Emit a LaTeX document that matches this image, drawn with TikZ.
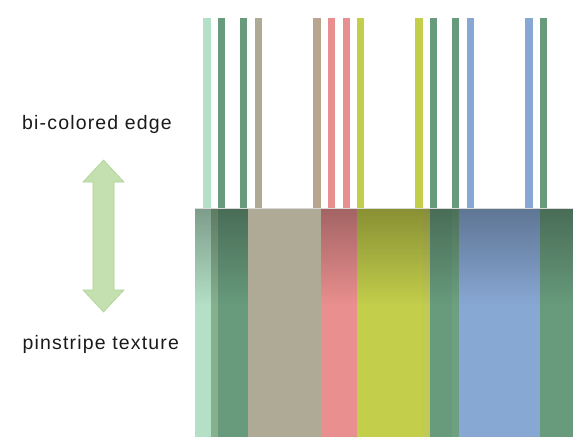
\documentclass[tikz,border=0pt]{standalone}
\usepackage{fontspec}
\setmainfont{Liberation Sans}
\usetikzlibrary{fadings}
\definecolor{cmint}{HTML}{B3E0C6}
\definecolor{cmix}{HTML}{87B08F}
\definecolor{cgreen}{HTML}{689B7C}
\definecolor{cgreenl}{HTML}{6DA081}
\definecolor{ctan}{HTML}{AEAA96}
\definecolor{cbrown}{HTML}{B9A48F}
\definecolor{cpink}{HTML}{EA8F8F}
\definecolor{cyel}{HTML}{C3CE4B}
\definecolor{cyeld}{HTML}{C1C957}
\definecolor{cblue}{HTML}{88A8D4}
\definecolor{arrfill}{HTML}{C5E0B0}
\definecolor{arrdraw}{HTML}{ABD192}
\definecolor{txt}{HTML}{1A1A1A}
\tikzfading[name=topdark, top color=transparent!70, bottom color=transparent!100]
\tikzset{
  label/.style={anchor=base west, inner sep=0pt, text=txt,
    font=\fontsize{19.5}{23}\selectfont\addfontfeature{LetterSpace=6}},
  shadeband/.style={black, path fading=topdark}
}
\begin{document}
\begin{tikzpicture}[x=1pt,y=-1pt]
\useasboundingbox (0,0) rectangle (581,444);
% top pinstripes
\foreach \a/\b/\c in {203/211/cmint,218/225/cgreen,240/247/cgreen,255/262/ctan,
  313/321/cbrown,328/335/cpink,343/350/cpink,357/364/cyel,415/423/cyel,
  430/437/cgreen,452/459/cgreen,467/474/cblue,525/533/cblue,540/547/cgreen}
  \fill[\c] (\a,18) rectangle (\b,209);
% texture block
\foreach \a/\b/\c in {195/211/cmint,211/218/cmix,218/248/cgreen,248/321/ctan,
  321/357/cpink,357/423/cyel,423/430/cyeld,430/452/cgreen,452/459/cgreenl,
  459/540/cblue,540/573/cgreen}
  \fill[\c] (\a,208) rectangle (\b,437);
\fill[shadeband] (195,208) rectangle (248,305);
\fill[shadeband] (321,208) rectangle (573,305);
\draw[white!85!black, line width=0.6pt] (195,208.3) -- (573,208.3);
% double arrow
\filldraw[fill=arrfill, draw=arrdraw, line width=0.6pt, line join=miter]
  (103.5,160) -- (124,182) -- (114,182) -- (114,290) -- (124,290) -- (103.5,312)
  -- (83,290) -- (93,290) -- (93,182) -- (83,182) -- cycle;
% labels
\node[label] (edge) at (22,129) {bi-colored edge};
\node[label] (pin) at (22.5,349) {pinstripe texture};
\end{tikzpicture}
\end{document}
